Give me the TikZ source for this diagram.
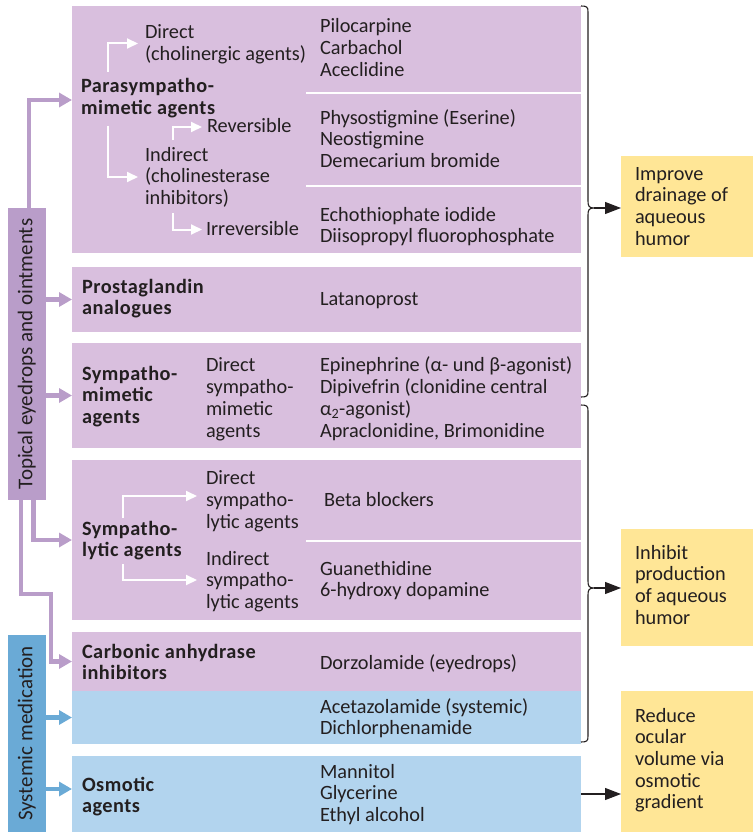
\documentclass[tikz,border=0pt]{standalone}
\usepackage{fontspec}
\setmainfont{Carlito}[BoldFeatures={LetterSpace=2.5}]
\usetikzlibrary{arrows.meta}
\definecolor{pfill}{RGB}{217,191,222}
\definecolor{pdark}{RGB}{185,157,201}
\definecolor{bfill}{RGB}{178,212,238}
\definecolor{bdark}{RGB}{106,170,214}
\definecolor{yfill}{RGB}{255,230,150}
\definecolor{tcol}{RGB}{35,31,32}
\newcommand\mybox[6]{\node[#2, minimum width={#5-#3}, minimum height={#6-#4}] (#1) at ({(#3+#5)/2},{(#4+#6)/2}) {};}
\begin{document}
\begin{tikzpicture}[x=1pt,y=-1pt,
  boxshape/.style={rectangle, inner sep=0pt, outer sep=0pt, draw=none},
  pbox/.style={boxshape, fill=pfill},
  bbox/.style={boxshape, fill=bfill},
  ybox/.style={boxshape, fill=yfill},
  pside/.style={boxshape, fill=pdark},
  bside/.style={boxshape, fill=bdark},
  txt/.style={anchor=base west, align=left, inner sep=0pt, outer sep=0pt, text=tcol, font=\fontsize{20.3}{21.7}\selectfont},
  btxt/.style={txt, font=\fontsize{20.3}{21.7}\selectfont\bfseries},
  vtxt/.style={rotate=90, inner sep=0pt, text=tcol, font=\fontsize{21}{22}\selectfont},
  sepline/.style={draw=white, line width=2pt},
  warrow/.style={draw=white, line width=2pt, -{Triangle[length=11pt,width=10pt]}},
  parrow/.style={draw=pdark, line width=4.5pt, -{Triangle[length=13pt,width=14pt]}},
  barrow/.style={draw=bdark, line width=4.5pt, -{Triangle[length=13pt,width=14pt]}},
  karrow/.style={draw=tcol, line width=1.1pt, -{Triangle[length=16pt,width=12pt]}},
  bracel/.style={draw=tcol, line width=1.1pt}
]
\useasboundingbox (0,0) rectangle (753,832);
% boxes
\mybox{b1}{pbox}{72}{6}{581}{253}
\mybox{b2}{pbox}{72}{267}{581}{332}
\mybox{b3}{pbox}{72}{343}{581}{448}
\mybox{b4}{pbox}{72}{460}{581}{620}
\mybox{b5}{pbox}{72}{632}{581}{691}
\mybox{b5s}{bbox}{72}{691}{581}{744}
\mybox{b6}{bbox}{72}{756}{581}{832}
\mybox{topical}{pside}{8}{208}{45.5}{500}
\mybox{systemic}{bside}{8}{635}{45.5}{832}
\mybox{y1}{ybox}{621}{156}{753}{257}
\mybox{y2}{ybox}{621}{529}{753}{646}
\mybox{y3}{ybox}{621}{691}{753}{832}
% vertical labels
\node[vtxt] (topt) at (topical.center) {Topical eyedrops and ointments};
\node[vtxt] (syst) at (systemic.center) {Systemic medication};
% separators
\draw[sepline] (306,93) -- (b1.east |- 0,93);
\draw[sepline] (306,186) -- (b1.east |- 0,186);
\draw[sepline] (306,541) -- (b4.east |- 0,541);
% texts box 1 (anchor = baseline of last line)
\node[txt] (tdir) at (145,60.7) {Direct\\(cholinergic agents)};
\node[btxt] (tpara) at (81,114.7) {Parasympatho-\\mimetic agents};
\node[txt] (trev) at (207,132) {Reversible};
\node[txt] (tind) at (145,204.4) {Indirect\\(cholinesterase\\inhibitors)};
\node[txt] (tirr) at (206,235) {Irreversible};
\node[txt] (tpilo) at (320,76.4) {Pilocarpine\\Carbachol\\Aceclidine};
\node[txt] (tphys) at (320,167.4) {Physostigmine (Eserine)\\Neostigmine\\Demecarium bromide};
\node[txt] (techo) at (320,242.7) {Echothiophate iodide\\Diisopropyl fluorophosphate};
% box 2
\node[btxt] (tprost) at (82,314.7) {Prostaglandin\\analogues};
\node[txt] (tlat) at (320,305) {Latanoprost};
% box 3
\node[btxt] (tsmim) at (82,423.4) {Sympatho-\\mimetic\\agents};
\node[txt] (tdsm) at (206,437) {Direct\\sympatho-\\mimetic\\agents};
\node[txt] (tepi) at (320,437) {Epinephrine (α- und β-agonist)\\Dipivefrin (clonidine central\\α\textsubscript{2}-agonist)\\Apraclonidine, Brimonidine};
% box 4
\node[btxt] (tslyt) at (82,556.7) {Sympatho-\\lytic agents};
\node[txt] (tdsl) at (206,528) {Direct\\sympatho-\\lytic agents};
\node[txt] (tisl) at (206,608.4) {Indirect\\sympatho-\\lytic agents};
\node[txt] (tbeta) at (324,506) {Beta blockers};
\node[txt] (tguan) at (320,596.7) {Guanethidine\\6-hydroxy dopamine};
% box 5
\node[btxt] (tcarb) at (82,679.7) {Carbonic anhydrase\\inhibitors};
\node[txt] (tdorz) at (320,669) {Dorzolamide (eyedrops)};
\node[txt] (tacet) at (320,734.7) {Acetazolamide (systemic)\\Dichlorphenamide};
% box 6
\node[btxt] (tosm) at (82,812.7) {Osmotic\\agents};
\node[txt] (tmann) at (320,821.4) {Mannitol\\Glycerine\\Ethyl alcohol};
% yellow
\node[txt] (timp) at (635,245.1) {Improve\\drainage of\\aqueous\\humor};
\node[txt] (tinh) at (635,624.1) {Inhibit\\production\\of aqueous\\humor};
\node[txt] (tred) at (635,808.8) {Reduce\\ocular\\volume via\\osmotic\\gradient};
% white arrows
\coordinate (w1) at (108,72);
\coordinate (w1t) at (138,43.5);
\coordinate (w2) at (108,126);
\coordinate (w2t) at (138,177);
\coordinate (w3) at (172.7,140);
\coordinate (w3t) at (202,127);
\coordinate (w4) at (172.7,213);
\coordinate (w4t) at (202,229.5);
\coordinate (w5) at (122.7,518);
\coordinate (w5t) at (197,496);
\coordinate (w6) at (122.7,564);
\coordinate (w6t) at (197,580);
\draw[warrow] (w1) |- (w1t);
\draw[warrow] (w2) |- (w2t);
\draw[warrow] (w3) |- (w3t);
\draw[warrow] (w4) |- (w4t);
\draw[warrow] (w5) |- (w5t);
\draw[warrow] (w6) |- (w6t);
% purple connectors
\draw[parrow] ([xshift=2pt]topical.north) |- ([yshift=29.5pt]b1.west);
\draw[parrow] (topical.east |- b2.west) -- (b2.west);
\draw[parrow] (topical.east |- b3.west) -- (b3.west);
\draw[parrow] ([xshift=6.5pt]topical.south) |- (b4.west);
\draw[parrow] ([xshift=-6pt]topical.south) -- ++(0,-94pt) -| ([xshift=-21pt]b5.west) -- (b5.west);
% blue connectors
\draw[barrow] (systemic.east |- b5s.west) -- (b5s.west);
\draw[barrow] (systemic.east |- 0,789) -- (b6.west |- 0,789);
% braces
\coordinate (tip1) at (594,208);
\coordinate (tip2) at (594,588);
\draw[bracel] (581,6) .. controls (587,6) and (588,7) .. (588,12) -- (588,201)
  .. controls (588,206) and (589,208) .. (tip1)
  .. controls (589,208) and (588,210) .. (588,215) -- (588,391)
  .. controls (588,396) and (587,397) .. (581,397);
\draw[bracel] (581,405) .. controls (587,405) and (588,406) .. (588,411) -- (588,581)
  .. controls (588,586) and (589,588) .. (tip2)
  .. controls (589,588) and (588,590) .. (588,595) -- (588,736)
  .. controls (588,741) and (587,742) .. (581,742);
\draw[karrow] (tip1) -- (tip1 -| y1.west);
\draw[karrow] (tip2) -- (tip2 -| y2.west);
\draw[karrow] (b6.east) -- (b6.east -| y3.west);
\end{tikzpicture}
\end{document}
